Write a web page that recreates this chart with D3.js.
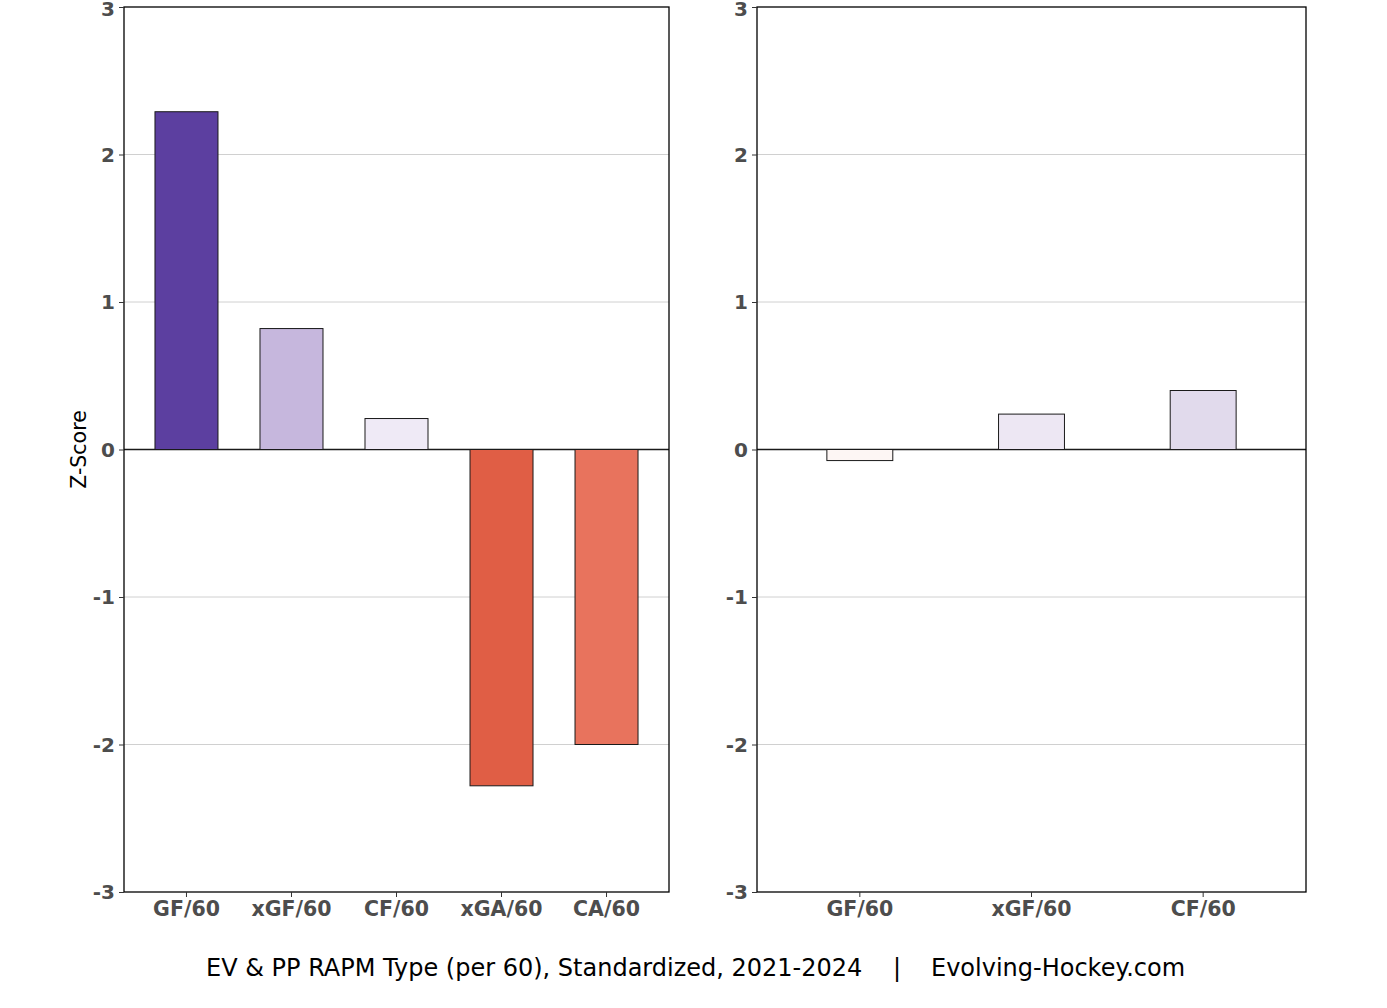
<!DOCTYPE html>
<html>
<head>
<meta charset="utf-8">
<script src="https://cdn.jsdelivr.net/npm/d3@7"></script>
<style>
  body { margin: 0; background: #fff; }
  text { font-family: "DejaVu Sans", sans-serif; }
</style>
</head>
<body>
<div id="chart"></div>
<script>
const width = 1387;
const height = 1008;

// data
const leftCats = ["GF/60", "xGF/60", "CF/60", "xGA/60", "CA/60"];
const leftVals = [2.29, 0.82, 0.21, -2.28, -2.0];
const leftColors = ["#5c3fa0", "#c6b7dd", "#efeaf6", "#e05e45", "#e8735d"];

const rightCats = ["GF/60", "xGF/60", "CF/60"];
const rightVals = [-0.075, 0.24, 0.40];
const rightColors = ["#fdf6f4", "#ede7f3", "#e1daec"];

const yTicks = [-3, -2, -1, 0, 1, 2, 3];
const captionLeft = "EV & PP RAPM Type (per 60), Standardized, 2021-2024";
const captionSep = "|";
const captionRight = "Evolving-Hockey.com";

const plotTop = 7, plotBottom = 892;

const svg = d3.select('#chart').append('svg')
    .attr('width', width)
    .attr('height', height);

const y = d3.scaleLinear().domain([-3, 3]).range([plotBottom, plotTop]);

function panel(x0, x1, cats, vals, colors, padInner, padOuter) {
    const x = d3.scaleBand()
        .domain(cats)
        .range([x0, x1])
        .paddingInner(padInner)
        .paddingOuter(padOuter);

    const g = svg.append('g');

    // gridlines
    g.append('g')
        .selectAll('line')
        .data(yTicks.filter(d => d !== 0 && d !== 3 && d !== -3))
        .join('line')
        .attr('x1', x0).attr('x2', x1)
        .attr('y1', d => y(d)).attr('y2', d => y(d))
        .attr('stroke', '#c4c4c4')
        .attr('stroke-width', 0.8);

    // zero line
    g.append('line')
        .attr('x1', x0).attr('x2', x1)
        .attr('y1', y(0)).attr('y2', y(0))
        .attr('stroke', '#1a1a1a')
        .attr('stroke-width', 1.5);

    // bars
    g.append('g')
        .selectAll('rect')
        .data(cats)
        .join('rect')
        .attr('x', d => x(d))
        .attr('width', x.bandwidth())
        .attr('y', (d, i) => y(Math.max(0, vals[i])))
        .attr('height', (d, i) => Math.abs(y(vals[i]) - y(0)))
        .attr('fill', (d, i) => colors[i])
        .attr('stroke', '#1a1a1a')
        .attr('stroke-width', 1);

    // frame
    g.append('rect')
        .attr('x', x0).attr('y', plotTop)
        .attr('width', x1 - x0).attr('height', plotBottom - plotTop)
        .attr('fill', 'none')
        .attr('stroke', '#000')
        .attr('stroke-width', 1.3);

    // axes
    const yAxis = g.append('g')
        .attr('transform', `translate(${x0},0)`)
        .call(d3.axisLeft(y).tickValues(yTicks).tickSize(5).tickPadding(4)
            .tickFormat(d => String(d)));
    yAxis.select('.domain').remove();
    yAxis.selectAll('text')
        .attr('fill', '#4d4d4d')
        .attr('dy', d => d === 3 ? '0.4em' : '0.34em')
        .style('font-size', '20px')
        .style('font-weight', 'bold');
    yAxis.selectAll('line').attr('stroke', '#333');

    const xAxis = g.append('g')
        .attr('transform', `translate(0,${plotBottom})`)
        .call(d3.axisBottom(x).tickSize(5).tickPadding(4));
    xAxis.select('.domain').remove();
    xAxis.selectAll('text')
        .attr('fill', '#4d4d4d')
        .style('font-size', '20.5px')
        .style('font-weight', 'bold');
    xAxis.selectAll('line').attr('stroke', '#333');
}

panel(124, 669, leftCats, leftVals, leftColors, 0.4, 0.295);
panel(757, 1306, rightCats, rightVals, rightColors, 0.616, 0.407);

// y label
svg.append('text')
    .attr('transform', `translate(86,${y(0)}) rotate(-90)`)
    .attr('text-anchor', 'middle')
    .style('font-size', '20.5px')
    .attr('fill', '#000')
    .text('Z-Score');

// caption
const cap = svg.append('g').style('font-size', '24px').attr('fill', '#000');
cap.append('text').attr('x', 206).attr('y', 976).text(captionLeft);
cap.append('text').attr('x', 897).attr('y', 976).attr('text-anchor', 'middle').text(captionSep);
cap.append('text').attr('x', 931).attr('y', 976).text(captionRight);
</script>
</body>
</html>
